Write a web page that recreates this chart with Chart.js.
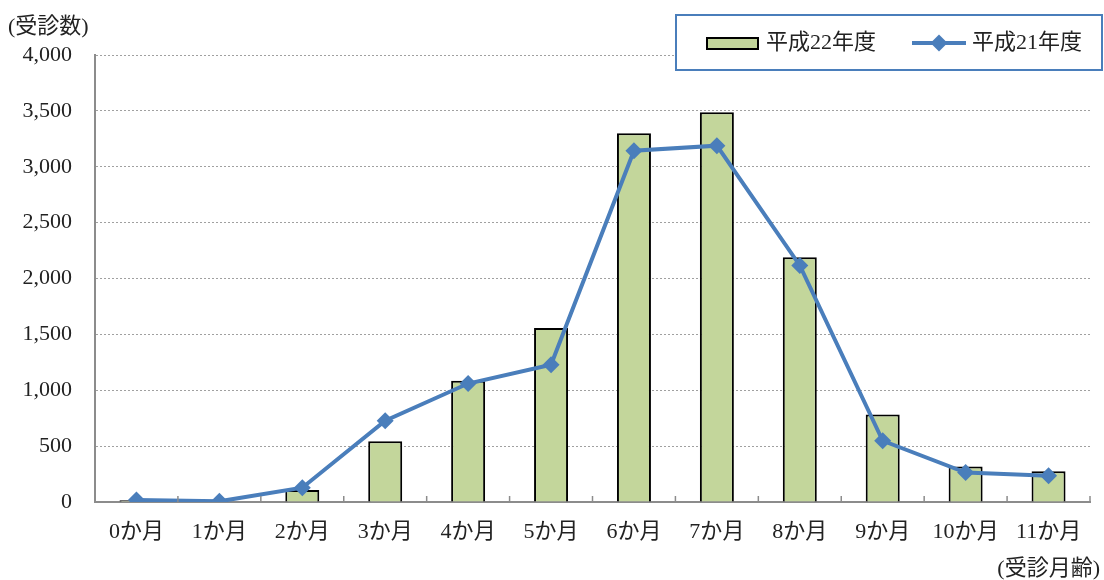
<!DOCTYPE html>
<html>
<head>
<meta charset="utf-8">
<script src="https://cdn.jsdelivr.net/npm/chart.js@4.4.0/dist/chart.umd.min.js"></script>
<style>
  body { margin: 0; background: #fff; }
  canvas { display: block; }
</style>
</head>
<body>
<canvas id="canvas" width="1104" height="580"></canvas>
<script>
// 受診月齢ごとの受診数
let months = ['0か月', '1か月', '2か月', '3か月', '4か月', '5か月', '6か月', '7か月', '8か月', '9か月', '10か月', '11か月'];
let h22 = [15, 5, 107, 543, 1084, 1556, 3300, 3487, 2190, 783, 318, 276];
let h21 = [18, 6, 128, 728, 1060, 1228, 3144, 3189, 2117, 548, 263, 235];
let yMax = 4000;
let yStep = 500;

let fontFamily = "'Liberation Serif', 'Noto Sans CJK JP', serif";
let textColor = '#222';
let barColor = '#c3d69b';
let lineColor = '#4a7ebb';
let axisColor = '#8c8c8c';

let drawDiamond = function(ctx, x, y, r) {
  ctx.beginPath();
  ctx.moveTo(x - r, y);
  ctx.lineTo(x, y - r);
  ctx.lineTo(x + r, y);
  ctx.lineTo(x, y + r);
  ctx.closePath();
  ctx.fill();
}

// small inward tick marks between the categories on the x axis
let innerTicks = {
  id: 'innerTicks',
  afterDatasetsDraw(chart) {
    let ctx = chart.ctx;
    let xs = chart.scales.x;
    let bottom = chart.chartArea.bottom;
    ctx.save();
    ctx.strokeStyle = axisColor;
    ctx.lineWidth = 1.5;
    for (let i = 0; i < months.length; i++) {
      let x = i < months.length - 1
        ? (xs.getPixelForTick(i) + xs.getPixelForTick(i + 1)) / 2
        : chart.chartArea.right;
      ctx.beginPath();
      ctx.moveTo(x, bottom);
      ctx.lineTo(x, bottom - 6);
      ctx.stroke();
    }
    ctx.restore();
  }
}

// legend box and axis captions
let captions = {
  id: 'captions',
  afterDraw(chart) {
    let ctx = chart.ctx;
    let line = chart.data.datasets[0];
    let bar = chart.data.datasets[1];
    ctx.save();
    ctx.font = '22px ' + fontFamily;
    ctx.fillStyle = textColor;
    ctx.textBaseline = 'middle';
    ctx.textAlign = 'left';
    ctx.fillText('(受診数)', 8, 27);
    ctx.textAlign = 'right';
    ctx.fillText('(受診月齢)', 1100, 569);

    ctx.fillStyle = '#fff';
    ctx.fillRect(676, 15, 426, 55);
    ctx.strokeStyle = lineColor;
    ctx.lineWidth = 2;
    ctx.strokeRect(676, 15, 426, 55);

    ctx.fillStyle = bar.backgroundColor;
    ctx.fillRect(707, 38, 51, 11);
    ctx.strokeStyle = bar.borderColor;
    ctx.lineWidth = 2;
    ctx.strokeRect(707, 38, 51, 11);
    ctx.fillStyle = textColor;
    ctx.textAlign = 'left';
    ctx.fillText(bar.label, 766, 43);

    ctx.strokeStyle = line.borderColor;
    ctx.lineWidth = 4;
    ctx.beginPath();
    ctx.moveTo(912, 43);
    ctx.lineTo(966, 43);
    ctx.stroke();
    ctx.fillStyle = line.borderColor;
    drawDiamond(ctx, 939, 43, 8.5);
    ctx.fillStyle = textColor;
    ctx.fillText(line.label, 972, 43);
    ctx.restore();
  }
}

let ctx = document.getElementById('canvas').getContext('2d');

window.my_chart = new Chart(ctx, {
  type: 'bar',
  data: {
    labels: months,
    datasets: [
      {
        type: 'line',
        label: '平成21年度',
        data: h21,
        borderColor: lineColor,
        backgroundColor: lineColor,
        borderWidth: 4,
        pointStyle: 'rectRot',
        pointRadius: 8.5,
        pointBorderWidth: 0,
        tension: 0,
        order: 0
      },
      {
        label: '平成22年度',
        data: h22,
        backgroundColor: barColor,
        borderColor: '#000',
        borderWidth: 2,
        barPercentage: 0.41,
        categoryPercentage: 1,
        order: 1
      }
    ]
  },
  options: {
    responsive: false,
    animation: false,
    layout: {
      padding: { top: 55, right: 14, bottom: 0, left: 0 }
    },
    plugins: {
      legend: { display: false },
      tooltip: { enabled: false }
    },
    scales: {
      x: {
        grid: { display: true, drawOnChartArea: false, drawTicks: false },
        border: { color: axisColor, width: 2 },
        ticks: {
          color: textColor,
          font: { family: fontFamily, size: 22 },
          padding: 17,
          maxRotation: 0,
          autoSkip: false
        },
        afterFit: function(scale) { scale.height = 78; }
      },
      y: {
        min: 0,
        max: yMax,
        grid: { color: '#a0a0a0', lineWidth: 1, drawTicks: false },
        border: { color: axisColor, width: 2, dash: [2, 2] },
        ticks: {
          stepSize: yStep,
          color: textColor,
          font: { family: fontFamily, size: 22 },
          padding: 23,
          callback: function(v) { return v.toLocaleString('en-US'); }
        },
        afterFit: function(scale) { scale.width = 95; }
      }
    }
  },
  plugins: [innerTicks, captions]
});
</script>
</body>
</html>
